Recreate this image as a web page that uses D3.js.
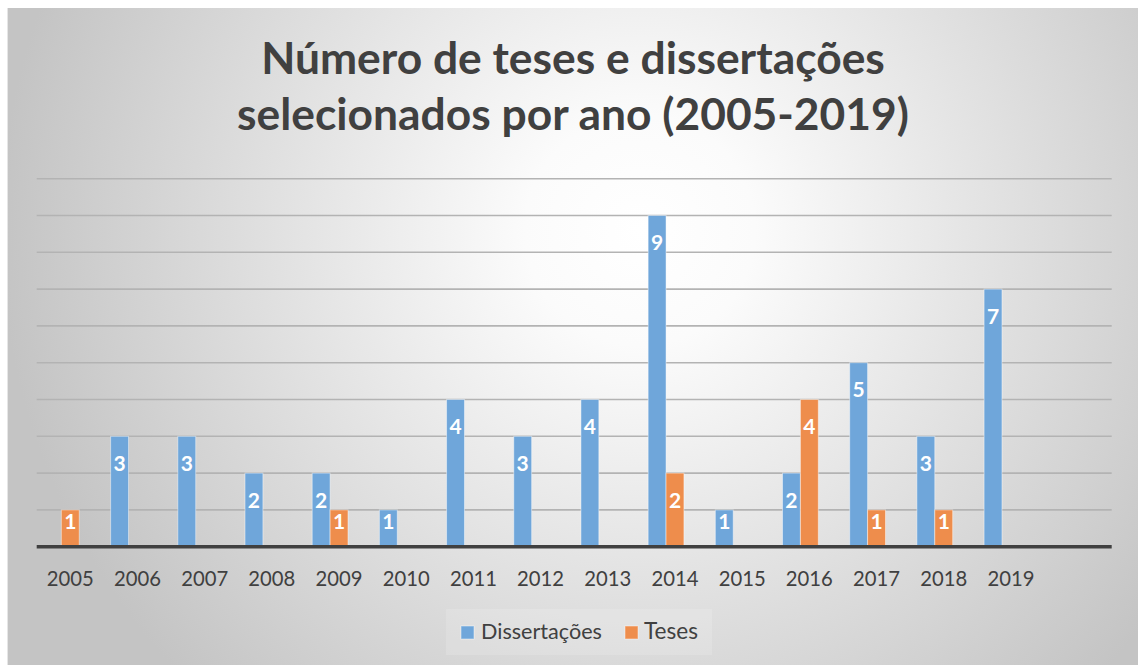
<!DOCTYPE html>
<html>
<head>
<meta charset="utf-8">
<script src="https://cdn.jsdelivr.net/npm/d3@7"></script>
<style>
  html, body { margin: 0; padding: 0; background: #fff; }
  svg { display: block; }
  text { font-family: Lato, "Open Sans", sans-serif; }
</style>
</head>
<body>
<div id="chart"></div>
<script>
// data
var anos = ["2005","2006","2007","2008","2009","2010","2011","2012","2013","2014","2015","2016","2017","2018","2019"];
var dissertacoes = [null, 3, 3, 2, 2, 1, 4, 3, 4, 9, 1, 2, 5, 3, 7];
var teses = [1, null, null, null, 1, null, null, null, null, 2, null, 4, 1, 1, null];
var series = ["Dissertações", "Teses"];
var cores = ["#6fa6da", "#ee8d4c"];
var yTicks = [0, 1, 2, 3, 4, 5, 6, 7, 8, 9, 10];
var titulo = ["Número de teses e dissertações", "selecionados por ano (2005-2019)"];

var W = 1138, H = 665;
var svg = d3.select("#chart").append("svg")
    .attr("width", W).attr("height", H);

var defs = svg.append("defs");
var grad = defs.append("radialGradient").attr("id", "bg")
    .attr("gradientUnits", "userSpaceOnUse")
    .attr("cx", 640).attr("cy", 230).attr("r", 640);
grad.append("stop").attr("offset", "0").attr("stop-color", "#ffffff");
grad.append("stop").attr("offset", "0.18").attr("stop-color", "#fbfbfb");
grad.append("stop").attr("offset", "1").attr("stop-color", "#c4c4c4");

// chart area background
svg.append("rect").attr("x", 7).attr("y", 8).attr("width", W - 7).attr("height", H - 8)
    .attr("fill", "url(#bg)");
svg.append("line").attr("x1", 7.5).attr("x2", 7.5).attr("y1", 8).attr("y2", H)
    .attr("stroke", "#e6e6e6").attr("stroke-width", 1);

// 16 slots: the last one stays empty, like in the original
var slots = anos.concat([""]);
var x0 = d3.scaleBand().domain(slots).range([36.7, 1111.7]).padding(0);
// three sub-slots per year, the third one unused
var x1 = d3.scaleBand().domain(series.concat(["_"])).range([0, x0.bandwidth()])
    .paddingInner(0).paddingOuter(0.377);
var y = d3.scaleLinear().domain([0, 10]).range([546.7, 178.7]);

// gridlines
svg.append("g").selectAll("line").data(yTicks.slice(1)).join("line")
    .attr("x1", 36.7).attr("x2", 1111.7)
    .attr("y1", function (d) { return y(d); }).attr("y2", function (d) { return y(d); })
    .attr("stroke", "#b3b3b3").attr("stroke-width", 1.6);

var fit = function (sel, target) {
  var l = sel.node().getComputedTextLength();
  var fs = parseFloat(sel.attr("font-size"));
  sel.attr("font-size", fs * target / l);
};

// bars
var dados = [dissertacoes, teses];
var bars = svg.append("g");
dados.forEach(function (vals, si) {
  var pts = anos.map(function (a, i) { return { ano: a, v: vals[i] }; })
      .filter(function (d) { return d.v != null; });
  var g = bars.append("g");
  g.selectAll("rect").data(pts).join("rect")
    .attr("x", function (d) { return x0(d.ano) + x1(series[si]); })
    .attr("width", x1.bandwidth())
    .attr("y", function (d) { return y(d.v); })
    .attr("height", function (d) { return y(0) - y(d.v); })
    .attr("fill", cores[si])
    .attr("stroke", "#ffffff").attr("stroke-opacity", 0.45).attr("stroke-width", 1);
  g.selectAll("text").data(pts).join("text")
    .attr("x", function (d) { return x0(d.ano) + x1(series[si]) + x1.bandwidth() / 2; })
    .attr("y", function (d) { return Math.min(y(d.v) + 27, y(0) - 25) + 7.5; })
    .attr("text-anchor", "middle")
    .attr("font-size", 21).attr("font-weight", 700)
    .attr("fill", "#ffffff")
    .text(function (d) { return d.v; });
});

// baseline
svg.append("line").attr("x1", 36.7).attr("x2", 1111.7)
    .attr("y1", y(0)).attr("y2", y(0))
    .attr("stroke", "#404040").attr("stroke-width", 3.6);

// x axis
var xAxis = d3.axisBottom(x0).tickSize(0).tickPadding(0)
    .tickValues(anos);
var ax = svg.append("g").attr("transform", "translate(0," + 586 + ")").call(xAxis);
ax.select(".domain").remove();
ax.selectAll("text").attr("dy", 0).attr("font-size", 20)
    .attr("fill", "#404040").style("font-family", "Lato, sans-serif");
var a0 = ax.select("text");
var l0 = a0.node().getComputedTextLength();
ax.selectAll("text").attr("font-size", 20 * 47 / l0);

// title
var tpos = [{ y: 73.5, w: 624 }, { y: 130, w: 672 }];
titulo.forEach(function (t, i) {
  var tx = svg.append("text")
    .attr("x", 573).attr("y", tpos[i].y)
    .attr("text-anchor", "middle")
    .attr("font-size", 40).attr("font-weight", 700)
    .attr("fill", "#404040")
    .text(t);
  fit(tx, tpos[i].w);
});

// legend
var leg = [{ mx: 461, tx: 481, w: 121 }, { mx: 625, tx: 644, w: 54 }];
svg.append("rect").attr("x", 446).attr("y", 609).attr("width", 266).attr("height", 46)
    .attr("fill", "#ffffff").attr("fill-opacity", 0.15);
series.forEach(function (s, i) {
  svg.append("rect").attr("x", leg[i].mx).attr("y", 626).attr("width", 13).attr("height", 13)
    .attr("fill", cores[i]).attr("stroke", "#ffffff").attr("stroke-opacity", 0.45);
  var t = svg.append("text").attr("x", leg[i].tx).attr("y", 639)
    .attr("font-size", 20).attr("fill", "#404040").text(s);
  fit(t, leg[i].w);
});
</script>
</body>
</html>
